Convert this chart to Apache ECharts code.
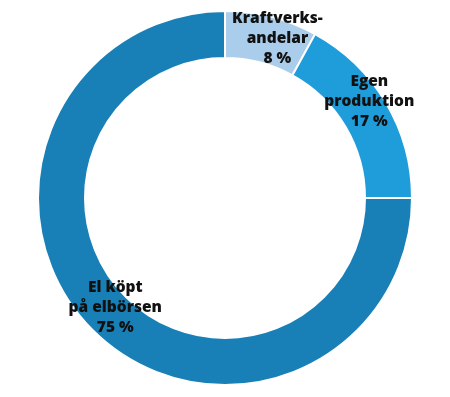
<!DOCTYPE html>
<html lang="sv">
<head>
    <meta charset="utf-8">
    <title>Elanskaffning</title>
    <script src="https://cdn.jsdelivr.net/npm/echarts@6/dist/echarts.min.js"></script>
    <style>
        html, body { margin: 0; padding: 0; background: #fff; }
        #main { width: 450px; height: 397px; }
    </style>
</head>
<body>
<div id="main"></div>
<script type="text/javascript">
    // data
    var names = ['Kraftverks-\nandelar', 'Egen\nproduktion', 'El köpt\npå elbörsen'];
    var values = [8, 17, 75];
    var colors = ['#a9cdeb', '#1f9ddb', '#1880b6'];
    var offsets = [[11, 2], [1, -12], [8, -8]];

    var myChart = echarts.init(document.getElementById('main'));
    var option = {
        animation: false,
        series: [
            {
                type: 'pie',
                center: [225, 198],
                radius: [140, 187],
                startAngle: 90,
                clockwise: true,
                itemStyle: {
                    borderColor: '#fff',
                    borderWidth: 2
                },
                label: {
                    position: 'inside',
                    color: '#111',
                    fontFamily: 'Open Sans',
                    fontWeight: 800,
                    fontSize: 15.5,
                    lineHeight: 20,
                    align: 'center',
                    formatter: function (p) {
                        return p.name + '\n' + p.value + ' %';
                    }
                },
                labelLine: { show: false },
                data: names.map(function (n, i) {
                    return {
                        name: n,
                        value: values[i],
                        itemStyle: { color: colors[i] },
                        label: { offset: offsets[i] }
                    };
                })
            }
        ]
    };
    myChart.setOption(option);
</script>
</body>
</html>
